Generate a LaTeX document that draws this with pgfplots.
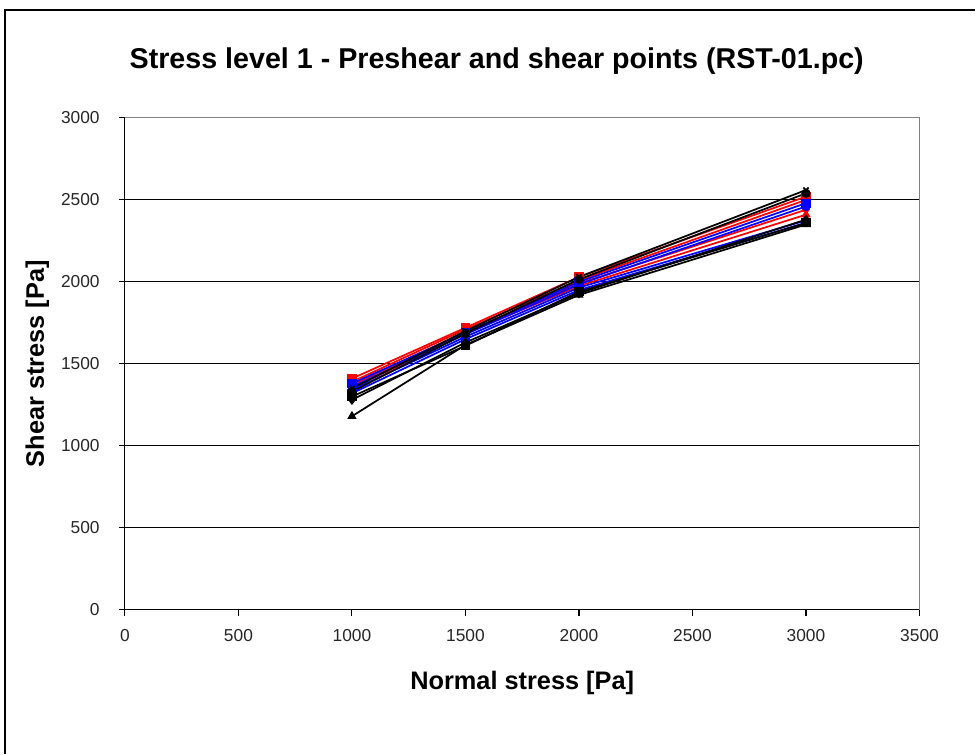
\documentclass[border=0pt]{standalone}
\usepackage{pgfplots}
\pgfplotsset{compat=1.18}
\usepackage{fontspec}
\setmainfont{Liberation Sans}
\begin{document}
\begin{tikzpicture}[x=0.75pt,y=0.75pt]
\path (0,0) rectangle (976,754);
\draw[black,line width=0.8pt] (5,0) -- (5,744) -- (976,744);
\node[font=\bfseries\fontsize{21.5}{25}\selectfont] at (497,693) {Stress level 1 - Preshear and shear points (RST-01.pc)};
\begin{axis}[
  at={(93.75pt,108pt)}, anchor=south west,
  scale only axis, width=596.25pt, height=369pt,
  xmin=0, xmax=3500, ymin=0, ymax=3000,
  xtick={0,500,...,3500}, ytick={0,500,...,3000},
  axis x line*=bottom, axis y line*=left,
  tick align=outside, major tick length=4.5pt,
  ymajorgrids, grid style={black, line width=0.75pt},
  axis line style={black, line width=0.8pt, -},
  tick style={black, line width=0.8pt},
  /pgf/number format/assume math mode=true,
  /pgf/number format/1000 sep={},
  ticklabel style={font=\fontsize{13}{15}\selectfont, text=black!85},
  yticklabel style={xshift=-11pt},
  xticklabel style={yshift=-7pt},
  xlabel={\textbf{Normal stress [Pa]}}, ylabel={\textbf{Shear stress [Pa]}},
  label style={font=\fontsize{19}{22}\selectfont},
  xlabel style={yshift=-15pt}, ylabel style={yshift=2pt},
  every axis plot/.append style={line width=1.3pt, mark size=2.8pt},
  clip=false,
]
\draw[gray, line width=0.75pt] (axis cs:0,3000) -- (axis cs:3500,3000) -- (axis cs:3500,0);
% red series
\addplot[red, mark=square*] coordinates {(1000,1410) (1500,1720) (2000,2030) (3000,2520)};
\addplot[red, mark=*] coordinates {(1000,1390) (1500,1710) (2000,2010) (3000,2500)};
\addplot[red, mark=diamond*] coordinates {(1000,1370) (1500,1695) (2000,1990) (3000,2440)};
\addplot[red, mark=triangle*] coordinates {(1000,1350) (1500,1685) (2000,1975) (3000,2410)};
% blue series
\addplot[blue, mark=square*] coordinates {(1000,1380) (1500,1690) (2000,2000) (3000,2480)};
\addplot[blue, mark=*] coordinates {(1000,1360) (1500,1680) (2000,1985) (3000,2460)};
\addplot[blue, mark=diamond*] coordinates {(1000,1340) (1500,1665) (2000,1965) (3000,2375)};
\addplot[blue, mark=square*] coordinates {(1000,1320) (1500,1650) (2000,1950) (3000,2360)};
% black series
\addplot[black, mark=x] coordinates {(1000,1350) (1500,1700) (2000,2030) (3000,2560)};
\addplot[black, mark=*] coordinates {(1000,1330) (1500,1685) (2000,2015) (3000,2540)};
\addplot[black, mark=diamond*] coordinates {(1000,1280) (1500,1630) (2000,1930) (3000,2380)};
\addplot[black, mark=square*] coordinates {(1000,1300) (1500,1610) (2000,1940) (3000,2360)};
\addplot[black, mark=triangle*] coordinates {(1000,1180) (1500,1615) (2000,1920) (3000,2350)};
\end{axis}
\end{tikzpicture}
\end{document}
